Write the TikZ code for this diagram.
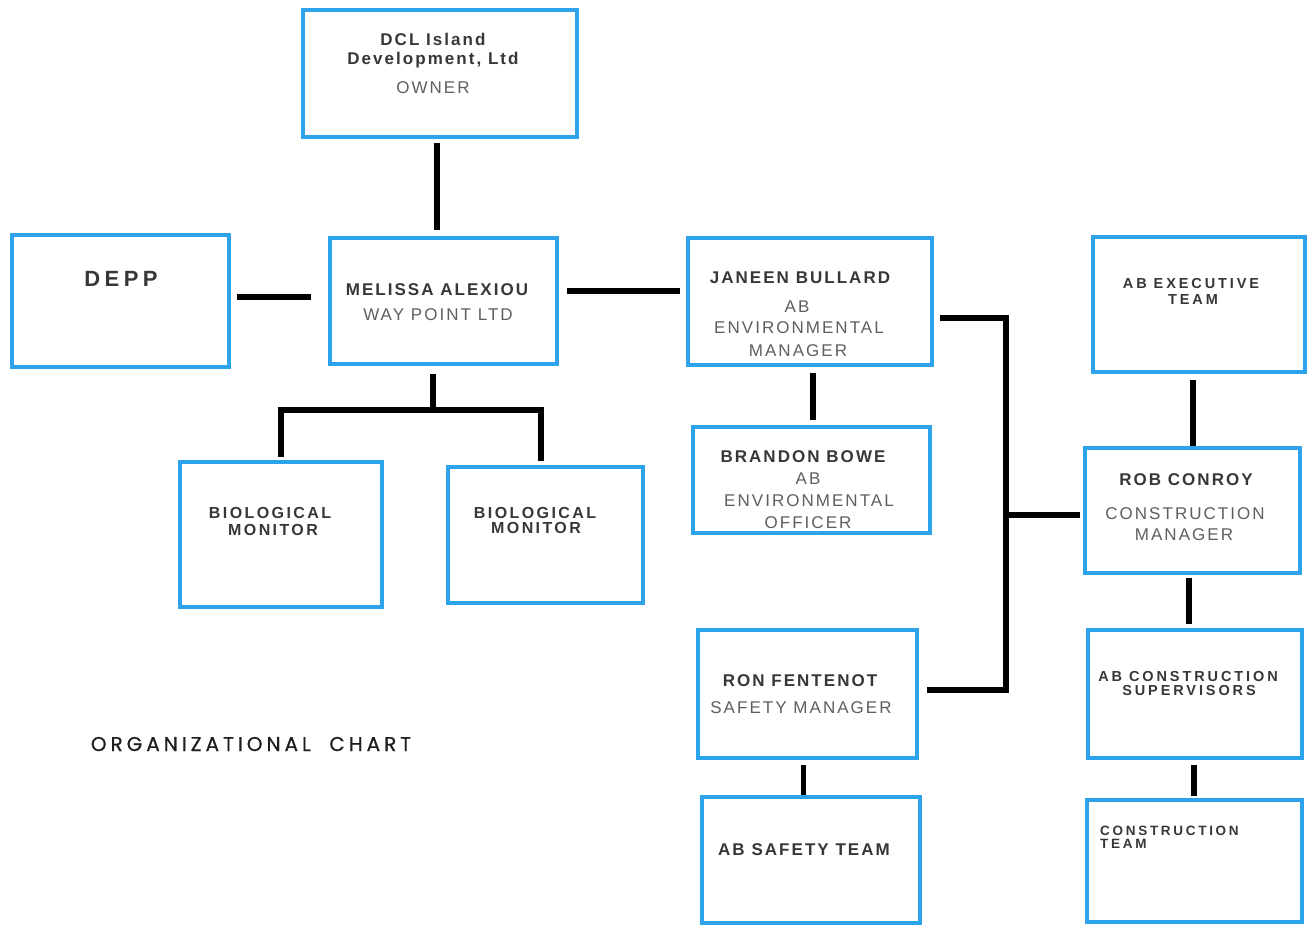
\documentclass[tikz,border=0pt]{standalone}
\usepackage{fontspec}
\setmainfont{Liberation Sans}
\newfontfamily\trk[LetterSpace=12]{Liberation Sans}
\newfontfamily\trks[LetterSpace=20]{Liberation Sans}
\newfontfamily\trkb[LetterSpace=15]{Liberation Sans}
\newfontfamily\trkw[LetterSpace=20]{Liberation Sans}
\newfontfamily\ttlfont[LetterSpace=20,FakeBold=0.6]{Poppins}
\definecolor{boxblue}{RGB}{45,163,235}
\definecolor{nametxt}{RGB}{55,55,55}
\definecolor{roletxt}{RGB}{95,95,95}
\definecolor{titletxt}{RGB}{30,30,30}
\tikzset{
  box/.style={draw=boxblue, line width=3.5pt, fill=white, inner sep=0pt},
  conn/.style={line width=5.5pt, black},
  nm/.style={anchor=base, inner sep=0pt, text=nametxt, font=\trk\bfseries\fontsize{17}{20}\selectfont},
  nmm/.style={anchor=base, inner sep=0pt, text=nametxt, font=\trkb\bfseries\fontsize{16}{18}\selectfont},
  nms/.style={anchor=base, inner sep=0pt, text=nametxt, font=\trks\bfseries\fontsize{14.5}{16}\selectfont},
  nmt/.style={anchor=base west, inner sep=0pt, text=nametxt, font=\trks\bfseries\fontsize{13.5}{15}\selectfont},
  rl/.style={anchor=base, inner sep=0pt, text=roletxt, font=\trk\fontsize{17}{20}\selectfont},
}
\begin{document}
\begin{tikzpicture}[x=1pt,y=-1pt]
\path[use as bounding box, fill=white] (0,0) rectangle (1309,924);

% boxes
\node[box, minimum width=274pt, minimum height=127pt] (owner) at (440,73.5) {};
\node[box, minimum width=217pt, minimum height=132pt] (depp) at (120.5,301) {};
\node[box, minimum width=227pt, minimum height=126pt] (mel) at (443.5,301) {};
\node[box, minimum width=244pt, minimum height=127pt] (jan) at (810,301.5) {};
\node[box, minimum width=237pt, minimum height=106pt] (bra) at (811.5,480) {};
\node[box, minimum width=212pt, minimum height=135pt] (exe) at (1199,304.5) {};
\node[box, minimum width=215pt, minimum height=125pt] (rob) at (1192.5,510.5) {};
\node[box, minimum width=202pt, minimum height=145pt] (bio1) at (281,534.5) {};
\node[box, minimum width=195pt, minimum height=136pt] (bio2) at (545.5,535) {};
\node[box, minimum width=219pt, minimum height=128pt] (ron) at (807.5,694) {};
\node[box, minimum width=218pt, minimum height=126pt] (saf) at (811,860) {};
\node[box, minimum width=214pt, minimum height=128pt] (sup) at (1195,694) {};
\node[box, minimum width=215pt, minimum height=122pt] (ctm) at (1194.5,861) {};

% junction coordinates
\coordinate (mb) at (433,410);
\coordinate (busm) at (1006,515);
\coordinate (busb) at (1006,690);

% connectors
\draw[conn] ([xshift=-3pt,yshift=-4pt]owner.south) -- ([xshift=-6.5pt,yshift=6pt]mel.north);
\draw[conn] ([xshift=6pt,yshift=4pt]depp.east) -- ([xshift=-17pt,yshift=4pt]mel.west);
\draw[conn] ([xshift=8pt,yshift=10pt]mel.east) -- ([xshift=-6pt,yshift=10.5pt]jan.west);
\draw[conn] ([xshift=-10.5pt,yshift=-8pt]mel.south) -- (mb);
\draw[conn] ([xshift=0pt,yshift=3pt]bio1.north) |- (mb) -| ([xshift=-4.5pt,yshift=4pt]bio2.north);
\draw[conn] ([xshift=3pt,yshift=-6pt]jan.south) -- ([xshift=1.5pt,yshift=5pt]bra.north);
\draw[conn] ([xshift=6pt,yshift=-16.5pt]jan.east) -| (busb) -- ([xshift=8pt,yshift=4pt]ron.east);
\draw[conn] (busm) -- ([xshift=-3pt,yshift=-4.5pt]rob.west);
\draw[conn] ([xshift=-6pt,yshift=-6pt]exe.south) -- ([xshift=0.5pt]rob.north);
\draw[conn] ([xshift=-3.5pt,yshift=-3pt]rob.south) -- ([xshift=-6pt,yshift=4pt]sup.north);
\draw[conn] ([xshift=-1pt,yshift=-5pt]sup.south) -- ([xshift=-0.5pt,yshift=2pt]ctm.north);
\draw[conn] ([xshift=-4pt,yshift=-5pt]ron.south) -- ([xshift=-7.5pt]saf.north);

% texts
\node[nm] (owner1) at (433,45) {DCL Island};
\node[nm] (owner2) at (433,64) {Development, Ltd};
\node[rl] (owner3) at (433,93) {OWNER};

\node[anchor=base, inner sep=0pt, text=nametxt, font=\trkw\bfseries\fontsize{22}{26}\selectfont] (depp1) at (121,286) {DEPP};

\node[nm] (mel1) at (437,295) {MELISSA ALEXIOU};
\node[rl] (mel2) at (438,320) {WAY POINT LTD};

\node[nm] (jan1) at (800,283) {JANEEN BULLARD};
\node[rl] (jan2) at (797,312) {AB};
\node[rl] (jan3) at (799,333) {ENVIRONMENTAL};
\node[rl] (jan4) at (798,356) {MANAGER};

\node[nm] (bra1) at (803,462) {BRANDON BOWE};
\node[rl] (bra2) at (808,484) {AB};
\node[rl] (bra3) at (809,506) {ENVIRONMENTAL};
\node[rl] (bra4) at (808,528) {OFFICER};

\node[nms] (exe1) at (1191,288) {AB EXECUTIVE};
\node[nms] (exe2) at (1193,304) {TEAM};

\node[nm] (rob1) at (1186,485) {ROB CONROY};
\node[rl] (rob2) at (1185,519) {CONSTRUCTION};
\node[rl] (rob3) at (1184,540) {MANAGER};

\node[nms] (sup1) at (1188,681) {AB CONSTRUCTION};
\node[nms] (sup2) at (1189,695) {SUPERVISORS};

\node[nmt] (ctm1) at (1100,835) {CONSTRUCTION};
\node[nmt] (ctm2) at (1100,848) {TEAM};

\node[nm] (ron1) at (800,686) {RON FENTENOT};
\node[rl] (ron2) at (801,713) {SAFETY MANAGER};

\node[nm] (saf1) at (804,855) {AB SAFETY TEAM};

\node[nmm] (bio1a) at (270,518) {BIOLOGICAL};
\node[nmm] (bio1b) at (273,535) {MONITOR};
\node[nmm] (bio2a) at (535,518) {BIOLOGICAL};
\node[nmm] (bio2b) at (536,533) {MONITOR};

\node[anchor=base, inner sep=0pt, text=titletxt, font=\ttlfont\fontsize{20}{24}\selectfont] (title) at (251,751) {ORGANIZATIONAL\ \ CHART};
\end{tikzpicture}
\end{document}
